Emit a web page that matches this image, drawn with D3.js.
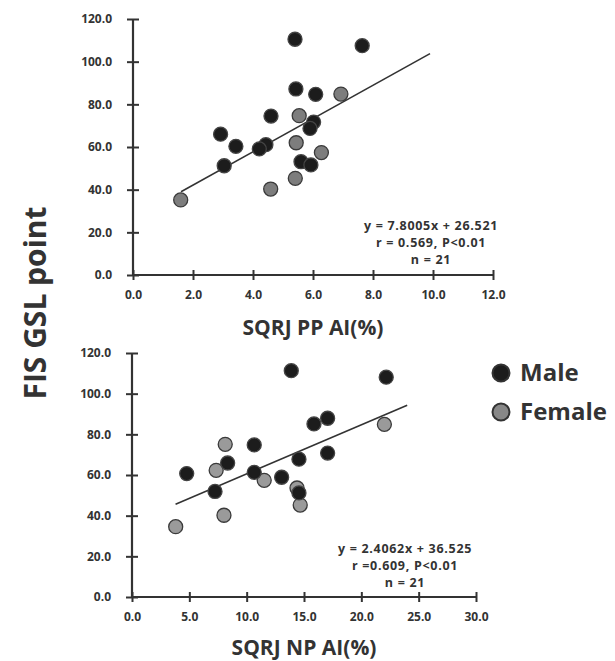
<!DOCTYPE html>
<html>
<head>
<meta charset="utf-8">
<script src="https://cdn.jsdelivr.net/npm/d3@7"></script>
<style>
  body { margin: 0; background: #fff; }
  svg { display: block; }
  text { font-family: "Open Sans", sans-serif; font-weight: bold; fill: #333; }
</style>
</head>
<body>
<svg id="chart" width="615" height="661"></svg>
<script>
// top panel: SQRJ PP AI(%) vs FIS GSL point
const ppMale = [
  [5.40, 110.5], [7.64, 107.5], [5.43, 87.2], [6.09, 84.7], [4.60, 74.5],
  [6.02, 71.7], [5.90, 68.7], [2.92, 66.0], [3.43, 60.3], [4.43, 61.1],
  [4.21, 59.1], [3.04, 51.2], [5.60, 53.1], [5.93, 51.6]
];
const ppFemale = [
  [6.93, 84.8], [5.54, 74.7], [5.44, 62.0], [6.28, 57.4], [5.41, 45.3],
  [4.59, 40.3], [1.59, 35.2]
];
const ppFit = { slope: 7.8005, intercept: 26.521, from: 1.6, to: 9.9 };
const ppText = ["y = 7.8005x + 26.521", "r = 0.569, P<0.01", "n = 21"];
const ppXTicks = [0, 2, 4, 6, 8, 10, 12];

// bottom panel: SQRJ NP AI(%) vs FIS GSL point
const npMale = [
  [13.89, 111.3], [22.17, 108.1], [15.87, 85.1], [17.06, 87.9], [10.66, 74.8],
  [8.34, 65.9], [4.77, 60.7], [14.56, 67.8], [17.06, 70.8], [10.66, 61.3],
  [13.05, 58.9], [7.24, 51.9], [14.56, 51.2]
];
const npFemale = [
  [22.01, 84.9], [8.13, 75.1], [7.34, 62.3], [11.53, 57.4], [14.39, 53.6],
  [14.67, 45.2], [8.02, 40.2], [3.81, 34.6]
];
const npFit = { slope: 2.4062, intercept: 36.525, from: 3.8, to: 24.0 };
const npText = ["y = 2.4062x + 36.525", "r =0.609, P<0.01", "n = 21"];
const npXTicks = [0, 5, 10, 15, 20, 25, 30];

const yTicks = [0, 20, 40, 60, 80, 100, 120];

const svg = d3.select("#chart");
const axisColor = "#333";

function panel(o) {
  const x = d3.scaleLinear().domain([0, o.xMax]).range(o.xr);
  const y = d3.scaleLinear().domain([0, 120]).range(o.yr);
  const g = svg.append("g");

  // axes (ticks cross the line)
  const yAxis = g.append("g")
    .attr("transform", `translate(${o.xr[0]},0)`)
    .call(d3.axisLeft(y).tickValues(yTicks).tickSize(6).tickFormat(d3.format(".1f")));
  const xAxis = g.append("g")
    .attr("transform", `translate(0,${o.yr[0]})`)
    .call(d3.axisBottom(x).tickValues(o.xTicks).tickSize(5).tickFormat(d3.format(".1f")));

  [yAxis, xAxis].forEach(a => {
    a.select(".domain").attr("stroke", axisColor).attr("stroke-width", 2.2);
    a.selectAll(".tick line").attr("stroke", axisColor).attr("stroke-width", 2);
    a.selectAll("text").attr("fill", axisColor)
      .style("font-family", '"Open Sans", sans-serif')
      .style("font-weight", "bold").style("font-size", "12px");
  });
  yAxis.select(".domain").attr("d", `M0,${o.yr[0]}V${o.yr[1]}`);
  xAxis.select(".domain").attr("d", `M${o.xr[0]},0H${o.xr[1]}`);
  yAxis.selectAll(".tick line").attr("x1", -6).attr("x2", 6);
  yAxis.selectAll(".tick text").attr("x", -21);
  xAxis.selectAll(".tick line").attr("y1", -5).attr("y2", 5);
  xAxis.selectAll(".tick text").attr("y", 15);

  // regression line
  g.append("line")
    .attr("x1", x(o.fit.from)).attr("y1", y(o.fit.slope * o.fit.from + o.fit.intercept))
    .attr("x2", x(o.fit.to)).attr("y2", y(o.fit.slope * o.fit.to + o.fit.intercept))
    .attr("stroke", "#333").attr("stroke-width", 1.6);

  // points
  const pts = o.female.map(d => ({ d, s: "f" })).concat(o.male.map(d => ({ d, s: "m" })));
  g.selectAll("circle.pt").data(pts).enter().append("circle")
    .attr("class", "pt")
    .attr("cx", p => x(p.d[0])).attr("cy", p => y(p.d[1]))
    .attr("r", 7)
    .attr("fill", p => p.s === "m" ? "#1c1c1c" : o.femaleFill)
    .attr("stroke", p => p.s === "m" ? "#444" : "#3a3a3a")
    .attr("stroke-width", 1.3);

  // equation text
  g.selectAll("text.eq").data(o.text).enter().append("text")
    .attr("class", "eq")
    .attr("x", o.textX).attr("y", (d, i) => o.textY + i * 17)
    .attr("text-anchor", "middle")
    .style("font-size", "12.5px")
    .style("letter-spacing", "0.7px")
    .text(d => d);

  // axis title
  g.append("text")
    .attr("x", (o.xr[0] + o.xr[1]) / 2).attr("y", o.titleY)
    .attr("text-anchor", "middle")
    .style("font-size", "21px")
    .text(o.title);
}

panel({
  xMax: 12, xr: [133, 493], yr: [275, 19], xTicks: ppXTicks,
  male: ppMale, female: ppFemale, femaleFill: "#7d7d7d", fit: ppFit,
  text: ppText, textX: 431, textY: 230,
  title: "SQRJ PP AI(%)", titleY: 335
});

panel({
  xMax: 30, xr: [132, 476], yr: [597, 353], xTicks: npXTicks,
  male: npMale, female: npFemale, femaleFill: "#9a9a9a", fit: npFit,
  text: npText, textX: 405, textY: 553,
  title: "SQRJ NP AI(%)", titleY: 655
});

// shared y title
svg.append("text")
  .attr("transform", "translate(46,303) rotate(-90)")
  .attr("text-anchor", "middle")
  .style("font-size", "30px")
  .text("FIS GSL point");

// legend
const legend = [
  { label: "Male", fill: "#1c1c1c" },
  { label: "Female", fill: "#888" }
];
const lg = svg.append("g").attr("transform", "translate(501,373)");
legend.forEach((l, i) => {
  lg.append("circle").attr("cx", 0).attr("cy", i * 39).attr("r", 8.5)
    .attr("fill", l.fill).attr("stroke", "#333").attr("stroke-width", 2);
  lg.append("text").attr("x", 19).attr("y", i * 39 + 8)
    .style("font-size", "24px").text(l.label);
});
</script>
</body>
</html>
